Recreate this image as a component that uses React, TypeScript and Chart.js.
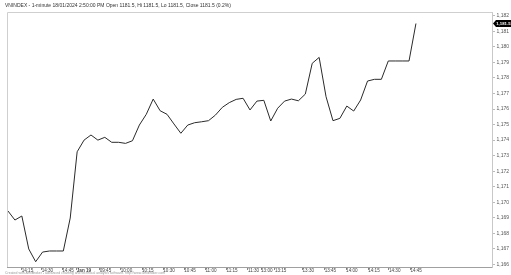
import React, { useEffect, useRef } from 'react';
import { Chart, registerables } from 'chart.js';

Chart.register(...registerables);

const TITLE = 'VNINDEX - 1-minute 18/01/2024 2:50:00 PM Open 1181.5, Hi 1181.5, Lo 1181.5, Close 1181.5 (0.2%)';
const FOOTER = 'Created with AmiBroker - advanced charting and technical analysis software. http://www.amibroker.com';

// closing values, one per bar
const closes = [
  1169.44, 1168.86, 1169.12, 1167.0, 1166.18, 1166.8, 1166.87, 1166.87, 1166.87, 1168.99,
  1173.25, 1174.0, 1174.33, 1174.0, 1174.18, 1173.86, 1173.86, 1173.79, 1173.96, 1174.97,
  1175.66, 1176.64, 1175.89, 1175.66, 1175.04, 1174.44, 1174.97, 1175.12, 1175.18, 1175.25,
  1175.61, 1176.11, 1176.41, 1176.62, 1176.69, 1175.94, 1176.51, 1176.56, 1175.23, 1176.05,
  1176.51, 1176.64, 1176.53, 1176.96, 1178.94, 1179.32, 1176.79, 1175.25, 1175.4, 1176.19,
  1175.87, 1176.58, 1177.8, 1177.91, 1177.91, 1179.09, 1179.09, 1179.09, 1179.09, 1181.5,
];

// time-axis labels and their bar positions
const xTickLabels = ['14:15', '14:30', '14:45', 'Jan 19', '09:45', '10:00', '10:15', '10:30', '10:45', '11:00', '11:15', '11:30', '13:00', '13:15', '13:30', '13:45', '14:00', '14:15', '14:30', '14:45'];
const xTickBars = [1.98, 4.87, 7.85, 9.95, 13.26, 16.3, 19.38, 22.46, 25.5, 28.55, 31.6, 34.7, 36.6, 38.6, 42.6, 45.8, 48.9, 52.1, 55.1, 58.2];

const yTickValues = [1166, 1167, 1168, 1169, 1170, 1171, 1172, 1173, 1174, 1175, 1176, 1177, 1178, 1179, 1180, 1181, 1182];
const Y_MIN = 1165.84;
const Y_MAX = 1182.24;
const X_MIN = -0.145;
const X_MAX = 70.0;

const FONT = 'Liberation Sans, Arial, sans-serif';

const fmt = (v: number, d = 0) =>
  v.toLocaleString('en-US', { minimumFractionDigits: d, maximumFractionDigits: d });

const overlay = {
  id: 'overlay',
  afterDraw(chart: any) {
    const ctx = chart.ctx as CanvasRenderingContext2D;
    const a = chart.chartArea;
    ctx.save();
    // frame
    ctx.strokeStyle = '#cfcfcf';
    ctx.lineWidth = 1;
    ctx.beginPath();
    ctx.moveTo(a.left + 0.5, a.bottom);
    ctx.lineTo(a.left + 0.5, a.top + 0.5);
    ctx.lineTo(a.right + 0.5, a.top + 0.5);
    ctx.stroke();
    // title
    ctx.fillStyle = '#333';
    ctx.font = `5px ${FONT}`;
    ctx.textBaseline = 'middle';
    ctx.textAlign = 'left';
    ctx.fillText(TITLE, 5, 5.5);
    // footer
    ctx.fillStyle = '#999';
    ctx.font = `3.5px ${FONT}`;
    ctx.fillText(FOOTER, 5, 273.5);
    // last price tag
    const last = closes[closes.length - 1];
    const y = chart.scales.y.getPixelForValue(last);
    const x0 = a.right + 1;
    ctx.fillStyle = '#000';
    ctx.beginPath();
    ctx.moveTo(x0, y);
    ctx.lineTo(x0 + 3, y - 3.5);
    ctx.lineTo(chart.width, y - 3.5);
    ctx.lineTo(chart.width, y + 3.5);
    ctx.lineTo(x0 + 3, y + 3.5);
    ctx.closePath();
    ctx.fill();
    ctx.fillStyle = '#fff';
    ctx.font = `bold 4.3px ${FONT}`;
    ctx.fillText(fmt(last, 1), x0 + 3.2, y + 0.3);
    ctx.restore();
  },
};

export default function App() {
  const ref = useRef<HTMLCanvasElement>(null);
  useEffect(() => {
    if (!ref.current) return;
    const chart = new Chart(ref.current, {
      type: 'line',
      data: {
        datasets: [
          {
            data: closes.map((v, i) => ({ x: i, y: v })),
            borderColor: '#2a2a2a',
            borderWidth: 1,
            pointRadius: 0,
            tension: 0,
            fill: false,
          },
        ],
      },
      options: {
        animation: false,
        responsive: false,
        devicePixelRatio: 1,
        layout: { padding: { left: 7, top: 12, right: 0, bottom: 0 } },
        plugins: { legend: { display: false }, tooltip: { enabled: false }, title: { display: false } },
        scales: {
          x: {
            type: 'linear',
            min: X_MIN,
            max: X_MAX,
            afterFit: (s: any) => {
              s.height = 8;
            },
            afterBuildTicks: (s: any) => {
              s.ticks = xTickBars.map((v) => ({ value: v }));
            },
            border: { display: true, color: '#a0a0a0' },
            grid: { drawOnChartArea: false, drawTicks: true, tickLength: 3, color: '#888' },
            ticks: {
              autoSkip: false,
              maxRotation: 0,
              minRotation: 0,
              align: 'start',
              padding: -2,
              color: '#444',
              font: (c: any) => ({
                family: FONT,
                size: 4.6,
                weight: xTickLabels[c.index] === 'Jan 19' ? 'bold' : 'normal',
              }),
              callback: (_v: any, i: number) => xTickLabels[i],
            },
          },
          y: {
            type: 'linear',
            position: 'right',
            min: Y_MIN,
            max: Y_MAX,
            afterFit: (s: any) => {
              s.width = 19;
            },
            afterBuildTicks: (s: any) => {
              s.ticks = yTickValues.map((v) => ({ value: v }));
            },
            border: { display: true, color: '#c8c8c8' },
            grid: { drawOnChartArea: false, drawTicks: true, tickLength: 3, color: '#bbb' },
            ticks: {
              padding: 1.5,
              color: '#555',
              font: { family: FONT, size: 5 },
              callback: (v: any) => fmt(Number(v)),
            },
          },
        },
      },
      plugins: [overlay],
    });
    return () => chart.destroy();
  }, []);
  return (
    <div style={{ position: 'fixed', left: 0, top: 0, width: 511, height: 275, background: '#fff' }}>
      <canvas ref={ref} width={511} height={275} style={{ display: 'block', width: 511, height: 275 }} />
    </div>
  );
}
